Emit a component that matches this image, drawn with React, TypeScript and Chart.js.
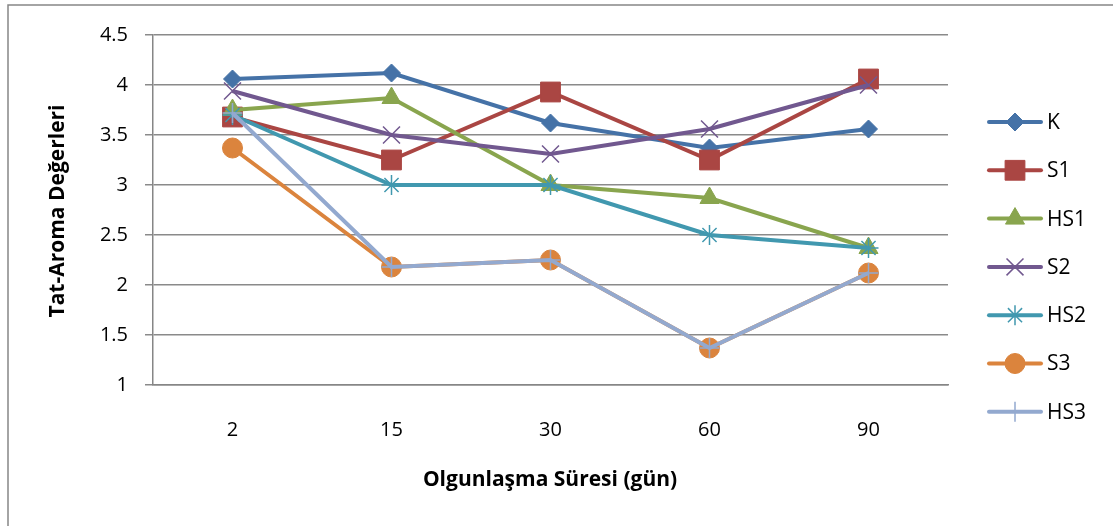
import React, { useEffect, useRef } from "react";
import { Chart, registerables } from "chart.js";

Chart.register(...registerables);

const categories = ["2", "15", "30", "60", "90"];
const seriesNames = ["K", "S1", "HS1", "S2", "HS2", "S3", "HS3"];
const kValues = [4.06, 4.12, 3.62, 3.37, 3.56];
const s1Values = [3.68, 3.25, 3.93, 3.25, 4.06];
const hs1Values = [3.75, 3.87, 3.0, 2.87, 2.37];
const s2Values = [3.94, 3.5, 3.31, 3.56, 4.0];
const hs2Values = [3.7, 3.0, 3.0, 2.5, 2.37];
const s3Values = [3.37, 2.18, 2.25, 1.37, 2.12];
const hs3Values = [3.72, 2.18, 2.25, 1.37, 2.12];
const yTicksMin = 1;
const yTicksMax = 4.5;
const yStep = 0.5;

const colors = ["#4572A7", "#AA4643", "#89A54E", "#71588F", "#4198AF", "#DB843D", "#93A9CF"];
const pointStyles = ["rectRot", "rect", "triangle", "crossRot", "star", "circle", "cross"];
const pointRadii = [9, 14, 11, 12, 10, 10, 10];
const pointBorders = [1, 1, 1, 1.5, 1.5, 1, 1.5];

const FONT = "'Open Sans', 'Liberation Sans', sans-serif";

export default function App() {
  const ref = useRef<HTMLCanvasElement | null>(null);
  useEffect(() => {
    const canvas = ref.current;
    if (!canvas) return;
    const values = [kValues, s1Values, hs1Values, s2Values, hs2Values, s3Values, hs3Values];
    const datasets = seriesNames.map((name, i) => ({
      label: name,
      data: values[i],
      borderColor: colors[i],
      backgroundColor: colors[i],
      pointBackgroundColor: colors[i],
      pointBorderColor: colors[i],
      pointStyle: pointStyles[i] as any,
      pointRadius: pointRadii[i],
      pointBorderWidth: pointBorders[i],
      borderWidth: 4,
      tension: 0,
      order: seriesNames.length - i,
    }));

    function drawMarker(ctx: any, style: string, r: number, x: number, y: number) {
      ctx.beginPath();
      const s2 = Math.SQRT1_2;
      switch (style) {
        case "rectRot":
          ctx.moveTo(x, y - r);
          ctx.lineTo(x + r, y);
          ctx.lineTo(x, y + r);
          ctx.lineTo(x - r, y);
          ctx.closePath();
          ctx.fill();
          ctx.stroke();
          break;
        case "rect": {
          const s = r * s2;
          ctx.rect(x - s, y - s, 2 * s, 2 * s);
          ctx.fill();
          ctx.stroke();
          break;
        }
        case "triangle": {
          ctx.moveTo(x, y - r);
          ctx.lineTo(x + r * Math.sin(Math.PI / 3), y + r / 2);
          ctx.lineTo(x - r * Math.sin(Math.PI / 3), y + r / 2);
          ctx.closePath();
          ctx.fill();
          ctx.stroke();
          break;
        }
        case "circle":
          ctx.arc(x, y, r, 0, Math.PI * 2);
          ctx.fill();
          ctx.stroke();
          break;
        case "crossRot": {
          const d = r * s2;
          ctx.moveTo(x - d, y - d);
          ctx.lineTo(x + d, y + d);
          ctx.moveTo(x - d, y + d);
          ctx.lineTo(x + d, y - d);
          ctx.stroke();
          break;
        }
        case "star": {
          const d = r * s2;
          ctx.moveTo(x - d, y - d);
          ctx.lineTo(x + d, y + d);
          ctx.moveTo(x - d, y + d);
          ctx.lineTo(x + d, y - d);
          ctx.moveTo(x, y - r);
          ctx.lineTo(x, y + r);
          ctx.moveTo(x - r, y);
          ctx.lineTo(x + r, y);
          ctx.stroke();
          break;
        }
        case "cross":
          ctx.moveTo(x, y - r);
          ctx.lineTo(x, y + r);
          ctx.moveTo(x - r, y);
          ctx.lineTo(x + r, y);
          ctx.stroke();
          break;
      }
    }

    const decor = {
      id: "decor",
      beforeDraw(chart: any) {
        const ctx = chart.ctx;
        ctx.save();
        ctx.fillStyle = "#ffffff";
        ctx.fillRect(0, 0, chart.width, chart.height);
        ctx.strokeStyle = "#868686";
        ctx.lineWidth = 1.5;
        ctx.strokeRect(8, 5, 1200, 700);
        ctx.restore();
      },
      afterDraw(chart: any) {
        const ctx = chart.ctx;
        ctx.save();
        ctx.fillStyle = "#000";
        ctx.font = `bold 21px ${FONT}`;
        ctx.textAlign = "center";
        ctx.textBaseline = "middle";
        ctx.fillText("Olgunlaşma Süresi (gün)", 550, 480);
        ctx.translate(58, 211);
        ctx.rotate(-Math.PI / 2);
        ctx.fillText("Tat-Aroma Değerleri", 0, 0);
        ctx.restore();

        ctx.save();
        chart.data.datasets.forEach((ds: any, i: number) => {
          const y = 122 + i * 48.3;
          ctx.strokeStyle = ds.borderColor;
          ctx.lineWidth = 4;
          ctx.lineCap = "round";
          ctx.beginPath();
          ctx.moveTo(989, y);
          ctx.lineTo(1041, y);
          ctx.stroke();
          ctx.fillStyle = ds.pointBackgroundColor;
          ctx.strokeStyle = ds.pointBorderColor;
          ctx.lineWidth = ds.pointBorderWidth;
          ctx.lineCap = "butt";
          drawMarker(ctx, ds.pointStyle, ds.pointRadius, 1015, y);
          ctx.fillStyle = "#000";
          ctx.font = `21px ${FONT}`;
          ctx.textAlign = "left";
          ctx.textBaseline = "middle";
          ctx.fillText(ds.label, 1047, y + 1);
        });
        ctx.restore();
      },
    };

    const chart = new Chart(canvas, {
      type: "line",
      data: { labels: categories, datasets: datasets as any },
      plugins: [decor],
      options: {
        responsive: false,
        animation: false,
        devicePixelRatio: 1,
        layout: { padding: { left: 0, top: 35, right: 165, bottom: 0 } },
        plugins: {
          legend: { display: false },
          tooltip: { enabled: false },
        },
        scales: {
          x: {
            type: "category",
            offset: true,
            grid: { display: false, drawTicks: false },
            border: { display: true, color: "#868686", width: 1.5 },
            ticks: { color: "#000", font: { family: FONT, size: 20 }, padding: 33, maxRotation: 0 },
            afterFit(scale: any) {
              scale.height = 141;
            },
          },
          y: {
            min: yTicksMin,
            max: yTicksMax,
            ticks: {
              stepSize: yStep,
              color: "#000",
              font: { family: FONT, size: 20 },
              padding: 17,
              callback: (v: any) => String(Number(v)),
            },
            grid: { color: "#8a8a8a", lineWidth: 1.5, tickLength: 8 },
            border: { display: true, color: "#868686", width: 1.5 },
            afterFit(scale: any) {
              scale.width = 153;
            },
          },
        },
      } as any,
    });
    return () => chart.destroy();
  }, []);

  return (
    <div style={{ position: "absolute", left: 0, top: 0, width: 1113, height: 526 }}>
      <canvas ref={ref} width={1113} height={526} style={{ display: "block" }} />
    </div>
  );
}
